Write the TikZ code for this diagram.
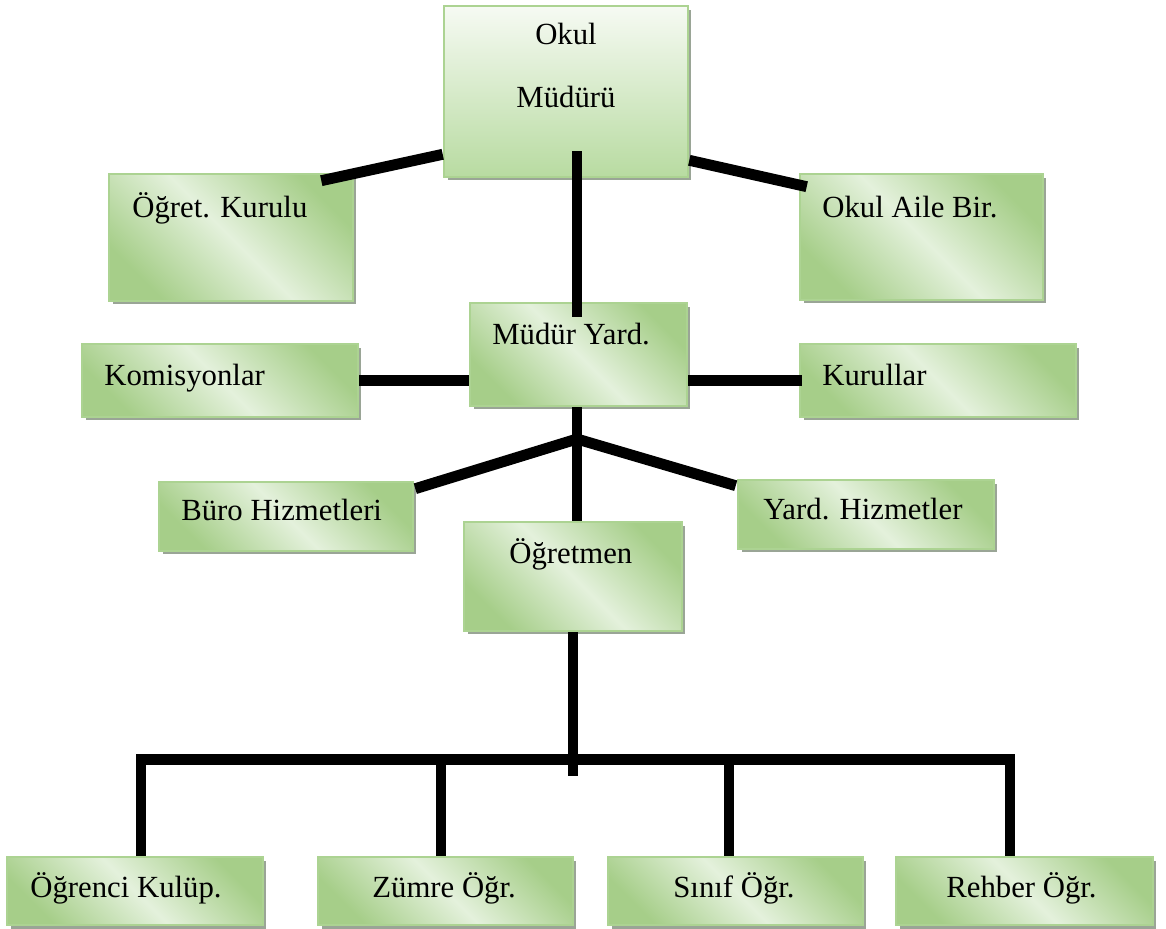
\documentclass[tikz,border=0pt]{standalone}
\usepackage{fontspec}
\setmainfont{Liberation Serif}
\usetikzlibrary{positioning,calc,shadows}

\definecolor{koyuyesil}{RGB}{166,206,137}
\definecolor{acikyesil}{RGB}{228,241,220}
\definecolor{ustyesil}{RGB}{246,250,243}
\definecolor{altyesil}{RGB}{184,219,161}
\definecolor{kenar}{RGB}{172,211,146}
\definecolor{golge}{RGB}{154,165,150}

\begin{document}
\begin{tikzpicture}[x=0.02cm,y=-0.02cm,font=\fontsize{17.5}{21}\selectfont]
	\tikzstyle{kutu}=[draw=kenar,line width=1.5pt,inner sep=0pt,top color=koyuyesil,bottom color=koyuyesil,middle color=acikyesil,shading angle=-45,drop shadow={shadow xshift=0.07cm,shadow yshift=-0.07cm,fill=golge,opacity=1}]
	\tikzstyle{yazi}=[inner sep=0pt,anchor=base west]
	\tikzstyle{hat}=[line width=6.2pt,black]

	\useasboundingbox (0,0) rectangle (1166,929);

	% kutular
	\node[kutu,minimum width=4.88cm,minimum height=3.42cm,top color=ustyesil,bottom color=altyesil] (okul) at (566,91.5) {};
	\node[kutu,minimum width=4.88cm,minimum height=2.54cm] (ogret) at (231,237.5) {};
	\node[kutu,minimum width=4.86cm,minimum height=2.52cm] (aile) at (921.5,237) {};
	\node[kutu,minimum width=4.34cm,minimum height=2.06cm] (yard) at (578.5,354.5) {};
	\node[kutu,minimum width=5.52cm,minimum height=1.46cm] (komis) at (220,380.5) {};
	\node[kutu,minimum width=5.52cm,minimum height=1.46cm] (kurul) at (938,380.5) {};
	\node[kutu,minimum width=5.08cm,minimum height=1.38cm] (buro) at (286,516.5) {};
	\node[kutu,minimum width=5.12cm,minimum height=1.38cm] (hizmet) at (866,514.5) {};
	\node[kutu,minimum width=4.36cm,minimum height=2.18cm] (ogretmen) at (573,576.5) {};
	\node[kutu,minimum width=5.12cm,minimum height=1.36cm] (kulup) at (135,891) {};
	\node[kutu,minimum width=5.10cm,minimum height=1.36cm] (zumre) at (445.5,891) {};
	\node[kutu,minimum width=5.10cm,minimum height=1.36cm] (sinif) at (735.5,891) {};
	\node[kutu,minimum width=5.14cm,minimum height=1.36cm] (rehber) at (1024.5,891) {};

	% baglantilar
	\coordinate (dal) at (577,439);
	\coordinate (alt) at (573,776);
	\draw[hat] ($(okul.south west)+(0,-24)$) -- ($(ogret.north east)+(-33,8)$);
	\draw[hat] ($(okul.south east)+(0,-18)$) -- ($(aile.north west)+(8,14)$);
	\draw[hat] ($(okul.south)+(11,-27)$) -- ($(yard.north)+(-1.5,15)$);
	\draw[hat] (komis.east) -- (komis.east -| yard.west);
	\draw[hat] (kurul.west -| yard.east) -- ($(kurul.west)+(3,0)$);
	\draw[hat] (dal |- yard.south) -- (dal |- ogretmen.north);
	\draw[hat] (dal) -- ($(buro.north east)+(1,8)$);
	\draw[hat] (dal) -- ($(hizmet.north west)+(-1,7)$);
	\draw[hat] (ogretmen.south) -- (alt);
	\draw[hat] ($(kulup.north)+(6,0)$) |- ($(rehber.north)+(-14.5,-96)$) -- ($(rehber.north)+(-14.5,0)$);
	\draw[hat] ($(zumre.north)+(-4.5,0)$) -- ++(0,-96);
	\draw[hat] ($(sinif.north)+(-6.5,0)$) -- ++(0,-96);

	% yazilar
	\node[yazi,anchor=base] (t-okul) at (566,45) {Okul};
	\node[yazi,anchor=base] (t-mudur) at (566,108) {Müdürü};
	\node[yazi] (t-ogret) at (132,217) {Öğret. Kurulu};
	\node[yazi] (t-aile) at (822,217) {Okul Aile Bir.};
	\node[yazi] (t-yard) at (492,344) {Müdür Yard.};
	\node[yazi] (t-komis) at (104,385) {Komisyonlar};
	\node[yazi] (t-kurul) at (822,385) {Kurullar};
	\node[yazi] (t-buro) at (181,520) {Büro Hizmetleri};
	\node[yazi] (t-hizmet) at (763,519) {Yard. Hizmetler};
	\node[yazi] (t-ogretmen) at (509,563) {Öğretmen};
	\node[yazi] (t-kulup) at (30,897) {Öğrenci Kulüp.};
	\node[yazi] (t-zumre) at (372,897) {Zümre Öğr.};
	\node[yazi] (t-sinif) at (673,897) {Sınıf Öğr.};
	\node[yazi] (t-rehber) at (946,897) {Rehber Öğr.};
\end{tikzpicture}
\end{document}
